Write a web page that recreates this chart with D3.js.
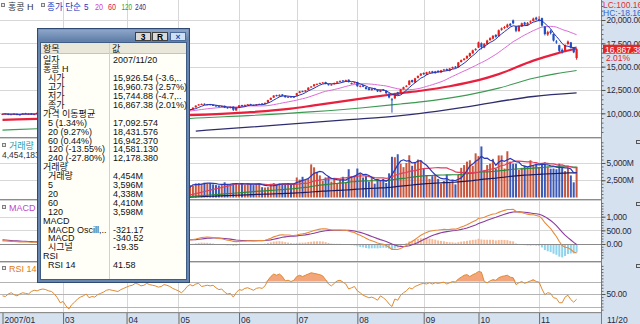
<!DOCTYPE html>
<html><head><meta charset="utf-8">
<script src="https://cdn.jsdelivr.net/npm/d3@7"></script>
<style>
html,body{margin:0;padding:0;background:#fff;overflow:hidden;}
svg{display:block;}
text{font-family:"Liberation Sans","Noto Sans CJK KR",sans-serif;}
</style></head><body>
<svg id="c" width="640" height="324"></svg>
<script>
// ---------------- DATA ----------------
const monthLabels = ["2007/01","03","04","05","06","07","08","09","10","11"];
const monthStartIdx = [0,21,43,61,82,102,123,146,165,186];
const lastDateLabel = "11/20";

const opens = [9880,9900,9950,
9860,9920,9940,9800,9900,10010,9900,9980,9830,9950,10080,10200,10280,10320,10400,10380,10450,9900,
9650,9720,9420,9150,9350,9400,9550,9480,9580,9400,9180,9330,9280,9400,9470,9560,9730,9800,9800,9700,9640,9720,
9800,9870,9950,9920,10030,10100,10060,10150,10220,10170,10250,10200,10120,10230,10300,10380,10330,10390,
10420,10470,10420,10300,10380,10450,10640,10850,10930,11020,10900,10980,10900,10840,10760,10680,10800,10640,10560,10720,10300,
10680,10880,10760,10920,10990,10900,10830,10970,11050,11000,11150,11450,11680,11950,11820,12020,11900,11680,11820,11680,
11900,12180,12380,12320,12480,12780,12900,13120,13180,13280,13350,13120,13000,13120,13280,13420,13520,13400,13600,13200,13280,
13350,12850,13000,12800,12680,12480,12700,12520,12300,12560,12420,12100,11500,11600,12250,12100,12600,12880,13050,13560,13300,13800,14050,
14320,14150,14420,14500,14300,14560,14380,14620,14750,14560,14820,15000,14950,15500,15720,15880,16120,16420,16800,
17050,17500,17050,17400,17850,18000,18400,18250,18950,19150,19230,19580,19950,19300,18800,19300,19720,19450,19750,19900,20250,
19950,20200,19300,18450,18800,18500,17700,17300,16800,16700,17420,17600,17020,15926.54];

const highs = [9960,9990,9980,
9940,10000,9970,9910,10020,10050,9990,10010,9950,10090,10210,10270,10350,10390,10440,10460,10470,9950,
9780,9750,9450,9340,9430,9550,9590,9600,9610,9420,9330,9360,9410,9490,9550,9730,9800,9840,9830,9730,9740,9810,
9890,9960,9980,10040,10120,10130,10160,10240,10250,10260,10280,10230,10240,10320,10390,10410,10420,10460,
10490,10500,10450,10400,10460,10630,10850,10990,11050,11060,11000,11010,10940,10870,10800,10820,10830,10680,10720,10740,10650,
10880,10910,10930,11000,11020,10930,10980,11040,11080,11150,11450,11690,11940,11990,12020,12060,11930,11820,11850,11860,
12190,12390,12420,12490,12790,12910,13140,13200,13290,13350,13380,13160,13140,13290,13440,13520,13560,13600,13630,13300,13360,
13380,13000,13040,12830,12710,12690,12730,12550,12540,12600,12450,12130,11650,12200,12300,12600,12850,13020,13550,13600,13800,14060,14300,
14380,14450,14520,14550,14550,14600,14650,14760,14800,14850,15000,15060,15500,15760,15920,16200,16500,16820,16980,
17680,17600,17520,17880,18150,18380,18480,18980,19200,19350,19600,19680,20050,19350,19420,19720,19800,19780,19950,20250,20350,
20400,20250,19350,18850,18950,18550,17850,17350,16950,17400,17800,17650,17100,16960.73];

const lows = [9850,9870,9800,
9820,9890,9790,9770,9880,9900,9870,9820,9800,9930,10050,10160,10240,10290,10340,10350,10100,9680,
9580,9440,9050,9100,9300,9380,9420,9450,9430,9110,9150,9200,9250,9370,9440,9540,9700,9750,9690,9580,9610,9690,
9770,9840,9850,9900,10000,10010,10030,10120,10120,10140,10150,10070,10090,10200,10270,10290,10300,10360,
10390,10370,10290,10260,10340,10420,10610,10820,10900,10880,10860,10850,10780,10710,10660,10650,10560,10500,10530,10250,10280,
10650,10740,10730,10880,10840,10780,10800,10940,10940,10970,11120,11420,11650,11800,11790,11830,11680,11640,11660,11650,
11880,12150,12260,12290,12450,12740,12870,13080,13140,13240,13110,12980,12960,13090,13250,13380,13390,13370,13300,13100,13220,
12850,12790,12800,12550,12450,12440,12500,12280,12260,12400,12080,11600,10070,11550,11900,12050,12550,12800,13000,13280,13250,13750,14000,
14120,14100,14350,14280,14250,14360,14340,14560,14540,14500,14780,14840,14900,15440,15650,15820,16050,16380,16700,
17000,16850,16980,17350,17760,17920,18100,18200,18850,19050,19150,19300,19550,18700,18750,19250,19400,19380,19650,19850,19950,
19850,19300,18350,18300,18450,17700,17450,16550,16400,16650,17350,16950,16450,15744.88];

const closes = [9920,9960,9840,
9900,9950,9820,9880,9990,9930,9960,9850,9920,10050,10180,10230,10300,10350,10390,10420,10180,9760,
9700,9480,9100,9300,9380,9520,9460,9560,9470,9150,9300,9240,9380,9450,9510,9700,9760,9790,9720,9620,9700,9780,
9850,9920,9880,10010,10080,10040,10120,10200,10150,10230,10180,10100,10210,10290,10350,10320,10380,10420,
10450,10400,10330,10360,10420,10600,10820,10950,11000,10920,10960,10880,10820,10750,10700,10780,10600,10550,10680,10380,10620,
10850,10780,10900,10960,10880,10820,10950,11000,10980,11120,11420,11650,11900,11850,11980,11870,11720,11780,11700,11820,
12150,12350,12300,12450,12750,12870,13100,13150,13250,13300,13150,13030,13100,13250,13400,13470,13430,13550,13350,13250,13300,
12900,12950,12850,12600,12500,12650,12550,12350,12500,12450,12150,11700,11400,12150,12000,12550,12800,12950,13500,13350,13750,14000,14250,
14200,14400,14450,14350,14500,14420,14600,14700,14600,14800,14950,14900,15450,15700,15850,16150,16450,16750,16900,
17600,17100,17450,17800,18050,18300,18200,18900,19100,19250,19500,19400,19650,18850,19350,19650,19500,19700,19850,20150,20050,
20100,19400,18500,18700,18600,17800,17600,16700,16650,17320,17690,17051,16535,16867.38];

// volume (millions of shares), first traded-volume record is bar 62
const volumeStart = 62;
const volumes = [1900,2000,1750,1800,1700,2050,2100,2000,2150,2050,2100,1900,1800,1750,1900,2200,1850,1950,2050,2100,
1900,2000,1850,2050,1950,1800,2000,2050,1500,1450,1500,2000,2100,1900,2050,1850,2000,2100,1900,2000,
2900,2600,3000,2500,2800,4800,4370,3700,3200,2400,2900,3000,2300,2800,2000,2600,3000,2200,4100,2900,3200,
4200,3400,2900,3100,2300,2900,2000,2600,2400,2700,2100,3500,5900,5840,6270,4900,4400,5000,6120,4600,5100,5500,5340,
4200,3200,2700,3100,3300,2700,2000,2400,3300,2100,2600,1900,3300,4300,4700,5200,5400,4600,6400,
6000,7400,4000,4700,4900,5600,4200,6100,6100,4200,6700,5200,4900,4900,4000,4300,4600,4400,5400,4600,4900,
4400,4900,5100,4400,4176,4200,4100,4900,4400,3830,4300,3200,2200,4454];

// long moving averages: [bar index, value]
const ma60Pts = [[0,9300],[12,9400],[30,9560],[50,9700],[65,9800],[85,10100],[100,10500],[108,10850],[125,11600],[138,12150],[145,12420],[155,12900],[165,13550],[172,14200],[184,15650],[192,16400],[199,16942.37]];
const ma120Pts = [[0,8200],[12,8350],[40,8750],[65,9450],[85,9750],[108,10180],[125,10600],[138,11000],[145,11220],[161,11950],[172,12700],[184,13750],[192,14250],[199,14581.13]];
const ma240Pts = [[67,8100],[96,8750],[119,9290],[138,9750],[145,10000],[161,10700],[184,11800],[199,12178.38]];

// MACD starting state (EMA12, EMA26, signal) at the first bar
const macdSeed = [9860, 9740, 160];

const rsi14 = [47,46,50,52,49,47,50,52,51,50,54,56,55,57,58,57,55,54,50,44,36,
38,31,26,33,37,42,45,47,50,44,46,45,49,51,53,56,57,56,55,54,57,59,
61,63,64,67,66,63,64,67,65,64,63,61,62,65,64,62,59,57,
55,52,56,62,65,63,66,67,62,63,64,63,64,60,57,58,53,50,51,45,52,
57,56,59,60,58,56,59,60,59,63,72,78,82,80,82,78,71,72,70,72,
78,80,78,80,82,84,83,82,81,79,73,66,63,67,71,72,69,66,58,60,62,
55,52,48,46,44,45,43,40,47,44,40,34,30,42,40,48,52,55,60,58,62,64,66,
67,66,68,66,68,67,68,69,66,68,70,69,74,77,80,81,78,81,83,
86,85,70,68,71,73,72,76,78,79,80,77,76,65,68,70,67,69,71,73,70,
69,58,49,52,51,44,43,36,36,45,48,41,37,41.58];

const priceTicks = [10000,12500,15000,17500,20000];
const volTicks = [2500,5000];
const macdTicks = [0,500,1000];
const macdTickLabels = ["0.00","500.00","1,000"];
const rsiGrid = [30,50,70];

const popupRows = [
 ["일자","2007/11/20",0],["홍콩 H","",0],
 ["시가","15,926.54 (-3.6,..",1],["고가","16,960.73 (2.57%)",1],["저가","15,744.88 (-4.7,..",1],["종가","16,867.38 (2.01%)",1],
 ["가격 이동평균","",0],["5 (1.34%)","17,092.574",1],["20 (9.27%)","18,431.576",1],["60 (0.44%)","16,942.370",1],["120 (-13.55%)","14,581.130",1],["240 (-27.80%)","12,178.380",1],
 ["거래량","",0],["거래량","4,454M",1],["5","3,596M",1],["20","4,338M",1],["60","4,410M",1],["120","3,598M",1],
 ["MACD","",0],["MACD Oscill,..","-321.17",1],["MACD","-340.52",1],["시그널","-19.35",1],
 ["RSI","",0],["RSI 14","41.58",1]];

// ---------------- CHART ----------------
const svg = d3.select("#c");
const AX = 601;
const N = closes.length;
const x = d3.scaleLinear().domain([0, N-1]).range([2.5, 576.6]);
const yP = d3.scaleLinear().domain([10000,20000]).range([113.3,20]);
const yV = d3.scaleLinear().domain([0,5000]).range([197.5,163]);
const yM = d3.scaleLinear().domain([0,1000]).range([244,216.7]);
const yR = d3.scaleLinear().domain([30,70]).range([306.5,281.5]);

const panels = [[0,137],[138,199],[200,261],[262,312]];
const defs = svg.append("defs");
panels.forEach((p,k)=>{
  defs.append("clipPath").attr("id","cp"+k).append("rect").attr("x",0).attr("y",p[0]).attr("width",AX).attr("height",p[1]-p[0]);
});

// right axis band and bottom band
svg.append("rect").attr("x",AX).attr("y",0).attr("width",640-AX).attr("height",324).attr("fill","#d6e1ef");
svg.append("rect").attr("x",0).attr("y",313).attr("width",640).attr("height",11).attr("fill","#d6e1ef");

// grid
const grid = svg.append("g").attr("stroke","#d7d7d7").attr("stroke-width",1);
monthStartIdx.slice(1).forEach(i=>{
  const xx = Math.round(x(i))+0.5;
  grid.append("line").attr("x1",xx).attr("x2",xx).attr("y1",0).attr("y2",312);
});
priceTicks.forEach(v=>grid.append("line").attr("x1",0).attr("x2",AX).attr("y1",Math.round(yP(v))+0.5).attr("y2",Math.round(yP(v))+0.5));
volTicks.forEach(v=>grid.append("line").attr("x1",0).attr("x2",AX).attr("y1",Math.round(yV(v))+0.5).attr("y2",Math.round(yV(v))+0.5));
[500,1000].forEach(v=>grid.append("line").attr("x1",0).attr("x2",AX).attr("y1",Math.round(yM(v))+0.5).attr("y2",Math.round(yM(v))+0.5));
rsiGrid.forEach(v=>svg.append("line").attr("stroke","#b4b4b4").attr("x1",0).attr("x2",AX).attr("y1",Math.round(yR(v))+0.5).attr("y2",Math.round(yR(v))+0.5));

// panel separators
[137,199,261,312].forEach(yy=>{
  svg.append("rect").attr("x",0).attr("y",yy).attr("width",AX).attr("height",1).attr("fill","#8c8c8c");
  svg.append("rect").attr("x",0).attr("y",yy+1).attr("width",AX).attr("height",1).attr("fill","#d0d0d0");
});

// moving averages helpers
function sma(arr, n, i){ let s=0,c=0; for(let k=Math.max(0,i-n+1);k<=i;k++){s+=arr[k];c++;} return s/c; }
const ma5 = closes.map((c,i)=>sma(closes,5,i));
const ma20 = closes.map((c,i)=>sma(closes,20,i));

// price panel
const gP = svg.append("g").attr("clip-path","url(#cp0)");
function drawPts(pts, color, w){
  gP.append("path").datum(pts).attr("fill","none").attr("stroke",color).attr("stroke-width",w)
    .attr("d", d3.line().curve(d3.curveMonotoneX).x(d=>x(d[0])).y(d=>yP(d[1])));
}
drawPts(ma240Pts,"#2e2e6e",1.3);
drawPts(ma120Pts,"#3c9a52",1.1);
drawPts(ma60Pts,"#e8203e",2.2);
gP.append("path").datum(ma20).attr("fill","none").attr("stroke","#dd6ad8").attr("stroke-width",1)
  .attr("d", d3.line().x((d,i)=>x(i)).y(d=>yP(d)));
const up = i=>closes[i]>=opens[i];
const candle = gP.append("g");
closes.forEach((c,i)=>{
  const col = up(i)?"#e4201c":"#1f4fc4";
  candle.append("line").attr("x1",x(i)).attr("x2",x(i)).attr("y1",yP(highs[i])).attr("y2",yP(lows[i])).attr("stroke",col).attr("stroke-width",1);
  const top = yP(Math.max(opens[i],c)), bot = yP(Math.min(opens[i],c));
  candle.append("rect").attr("x",x(i)-1.1).attr("width",2.2).attr("y",top).attr("height",Math.max(1,bot-top)).attr("fill",col);
});
gP.append("path").datum(ma5).attr("fill","none").attr("stroke","#2433b4").attr("stroke-width",1)
  .attr("d", d3.line().x((d,i)=>x(i)).y(d=>yP(d)));

// volume panel
const gV = svg.append("g").attr("clip-path","url(#cp1)");
const volAt = i => i>=volumeStart ? volumes[i-volumeStart] : 0;
volumes.forEach((v,k)=>{
  const i = k+volumeStart;
  gV.append("rect").attr("x",x(i)-1).attr("width",2).attr("y",yV(v)).attr("height",yV(0)-yV(v))
    .attr("fill", up(i)?"#c9573d":"#3b5ab8");
});
function volMA(n){ const out=[]; for(let i=volumeStart;i<N;i++){let s=0;for(let k=i-n+1;k<=i;k++) s+= k>=0?volAt(k):0; out.push([i,s/n]);} return out; }
[[120,"#1c1c62",1.2],[60,"#2a8a3c",1.2],[20,"#e0405e",1.2],[5,"#2838b8",1.2]].forEach(([n,col,w])=>{
  gV.append("path").datum(volMA(n)).attr("fill","none").attr("stroke",col).attr("stroke-width",w)
    .attr("d", d3.line().x(d=>x(d[0])).y(d=>yV(d[1])));
});

// MACD panel
const gM = svg.append("g").attr("clip-path","url(#cp2)");
let e12=macdSeed[0], e26=macdSeed[1], sg=macdSeed[2];
const macd=[], signal=[], osc=[];
closes.forEach(c=>{ e12+= (2/13)*(c-e12); e26 += (2/27)*(c-e26); const m=e12-e26; sg += 0.2*(m-sg); macd.push(m); signal.push(sg); osc.push(m-sg); });
osc.forEach((o,i)=>{
  gM.append("rect").attr("x",x(i)-1).attr("width",2).attr("y",Math.min(yM(o),yM(0))).attr("height",Math.abs(yM(o)-yM(0)))
    .attr("fill", o>=0?"#f6b995":"#8fd4ee");
});
gM.append("line").attr("x1",0).attr("x2",AX).attr("y1",Math.round(yM(0))+0.5).attr("y2",Math.round(yM(0))+0.5).attr("stroke","#8a8a8a");
gM.append("path").datum(signal).attr("fill","none").attr("stroke","#8b3c9e").attr("stroke-width",1.1).attr("d", d3.line().x((d,i)=>x(i)).y(d=>yM(d)));
gM.append("path").datum(macd).attr("fill","none").attr("stroke","#e8893a").attr("stroke-width",1.1).attr("d", d3.line().x((d,i)=>x(i)).y(d=>yM(d)));

// RSI panel
const gR = svg.append("g").attr("clip-path","url(#cp3)");
gR.append("path").datum(rsi14).attr("fill","#f3a57c").attr("stroke","none")
  .attr("d", d3.area().x((d,i)=>x(i)).y0(yR(70)).y1(d=>yR(Math.max(70,d))));
gR.append("path").datum(rsi14).attr("fill","none").attr("stroke","#e08a30").attr("stroke-width",1)
  .attr("d", d3.line().x((d,i)=>x(i)).y(d=>yR(d)));

// right axes
svg.append("line").attr("x1",AX+0.5).attr("x2",AX+0.5).attr("y1",0).attr("y2",324).attr("stroke","#7d7d7d");
function rAxis(scale, vals, fmt, minor){
  if(minor){
    const gm = svg.append("g").attr("transform",`translate(${AX+0.5},0)`).call(d3.axisRight(scale).tickValues(minor).tickFormat("").tickSize(2));
    gm.select(".domain").remove(); gm.selectAll("line").attr("stroke","#666");
  }
  const g = svg.append("g").attr("transform",`translate(${AX+0.5},0)`)
    .call(d3.axisRight(scale).tickValues(vals).tickFormat(fmt).tickSize(4).tickPadding(1));
  g.select(".domain").remove();
  g.selectAll("line").attr("stroke","#555");
  g.selectAll("text").attr("font-size","8.5px").attr("fill","#2a2a3a").attr("font-family","Liberation Sans, sans-serif").attr("letter-spacing","-0.2");
}
rAxis(yP, priceTicks, d3.format(",.2f"), d3.range(8000,22001,500).filter(v=>yP(v)>1&&yP(v)<136));
rAxis(yV, volTicks, d=>d3.format(",")(d)+"M", d3.range(0,8001,500).filter(v=>yV(v)>139&&yV(v)<198));
rAxis(yM, macdTicks, (d,i)=>macdTickLabels[i], d3.range(-600,1601,100).filter(v=>yM(v)>201&&yM(v)<260));
rAxis(yR, [50], ()=> "50.00", d3.range(0,101,5).filter(v=>yR(v)>263&&yR(v)<311));

// bottom axis
const gx = svg.append("g").attr("transform","translate(0,313)")
  .call(d3.axisBottom(x).tickValues(monthStartIdx).tickFormat((d,i)=>monthLabels[i]).tickSize(11));
gx.select(".domain").remove();
gx.selectAll("line").attr("stroke","#6a6a6a");
gx.selectAll("text").attr("text-anchor","start").attr("x",1.5).attr("y",9.5).attr("dy",0)
  .attr("font-size","8.5px").attr("fill","#2a2a3a").attr("font-family","Liberation Sans, sans-serif");
svg.append("text").attr("x",607).attr("y",322.5).attr("font-size","8.5px").attr("fill","#2a2a3a").text(lastDateLabel);

// labels
function sq(xx,yy){ svg.append("rect").attr("x",xx+0.5).attr("y",yy+0.5).attr("width",3).attr("height",3).attr("fill","#e8e8e8").attr("stroke","#808080").attr("stroke-width",1); }
sq(1,3); sq(41,3);
function hdrText(xx, txt, col, len){
  const t = svg.append("text").attr("x",xx).attr("y",9.5).attr("font-size","9px").attr("fill",col).text(txt);
  if(len) t.attr("textLength",len).attr("lengthAdjust","spacingAndGlyphs");
}
hdrText(8,"홍콩 H","#333");
hdrText(47,"종가 단순","#2033c0",34);
hdrText(84,"5","#2033c0",4.5);
hdrText(95,"20","#d040d0",8);
hdrText(108,"60","#e0203c",8);
hdrText(121.5,"120","#2ca040",10.5);
hdrText(135,"240","#2e2e80",11);
sq(2,143);
svg.append("text").attr("x",9).attr("y",149).attr("font-size","9px").attr("fill","#27a0ad").text("거래량");
svg.append("text").attr("x",2).attr("y",158).attr("font-size","8.5px").attr("fill","#333").text("4,454,183");
sq(2,205);
svg.append("text").attr("x",9).attr("y",210.5).attr("font-size","9px").attr("fill","#c048c8").text("MACD");
sq(2,266);
svg.append("text").attr("x",9).attr("y",271.5).attr("font-size","9px").attr("fill","#e07a20").text("RSI 14");
[140,202,264].forEach(yy=>svg.append("rect").attr("x",636.5).attr("y",yy+0.5).attr("width",4).attr("height",3).attr("fill","none").attr("stroke","#555"));

// top-right labels
svg.append("text").attr("x",603).attr("y",8).attr("font-size","8.5px").attr("fill","#e03030").text("LC:100.16");
svg.append("text").attr("x",603).attr("y",16).attr("font-size","8.5px").attr("fill","#3366cc").text("HC:-18.16");
const lastY = yP(closes[N-1]);
svg.append("rect").attr("x",603).attr("y",lastY-4.5).attr("width",37).attr("height",9).attr("fill","#e02828");
svg.append("text").attr("x",605).attr("y",lastY+3.3).attr("font-size","8.5px").attr("fill","#fff").text(d3.format(",.2f")(closes[N-1]));
svg.append("text").attr("x",606).attr("y",lastY+12).attr("font-size","8.5px").attr("fill","#e02828").text("2.01%");

// ---------------- POPUP ----------------
const pop = svg.append("g");
const grad = defs.append("linearGradient").attr("id","tb").attr("x1",0).attr("x2",0).attr("y1",0).attr("y2",1);
grad.append("stop").attr("offset","0").attr("stop-color","#8ea7c9");
grad.append("stop").attr("offset","1").attr("stop-color","#5d7ca6");
pop.append("rect").attr("x",37.5).attr("y",28.5).attr("width",152).attr("height",254).attr("fill","#6785ad").attr("stroke","#2f4a72");
pop.append("rect").attr("x",38.5).attr("y",29.5).attr("width",150).attr("height",12).attr("fill","url(#tb)");
function btn(x0,label,bg,fg,stroke){
  pop.append("rect").attr("x",x0+0.5).attr("y",32.5).attr("width",15).attr("height",8).attr("fill",bg).attr("stroke",stroke);
  pop.append("text").attr("x",x0+8).attr("y",39.8).attr("text-anchor","middle").attr("font-size","8.5px").attr("font-weight","bold").attr("fill",fg).text(label);
}
btn(135,"3","#d9d9d9","#000","#404040");
btn(152,"R","#d9d9d9","#000","#404040");
btn(170,"×","#cfe0f4","#2050b0","#4a6a9a");
pop.append("rect").attr("x",40.5).attr("y",42.5).attr("width",146).attr("height",237).attr("fill","#fffff8").attr("stroke","#3f5c86");
pop.append("rect").attr("x",41).attr("y",43).attr("width",145).attr("height",10).attr("fill","#e9e6da");
pop.append("line").attr("x1",41).attr("x2",186).attr("y1",53.5).attr("y2",53.5).attr("stroke","#c8c4b4");
pop.append("line").attr("x1",109.5).attr("x2",109.5).attr("y1",43).attr("y2",279).attr("stroke","#d6d3c6");
pop.append("text").attr("x",43).attr("y",51.5).attr("font-size","9px").attr("fill","#111").text("항목");
pop.append("text").attr("x",112).attr("y",51.5).attr("font-size","9px").attr("fill","#111").text("값");
popupRows.forEach((r,k)=>{
  const by = 60 + 8.9*k + 3.4;
  pop.append("text").attr("x", r[2]?48:43).attr("y",by).attr("font-size","9px").attr("fill","#111").text(r[0]);
  if(r[1]) pop.append("text").attr("x",113).attr("y",by).attr("font-size","9px").attr("fill","#111").text(r[1]);
});
</script>
</body></html>
